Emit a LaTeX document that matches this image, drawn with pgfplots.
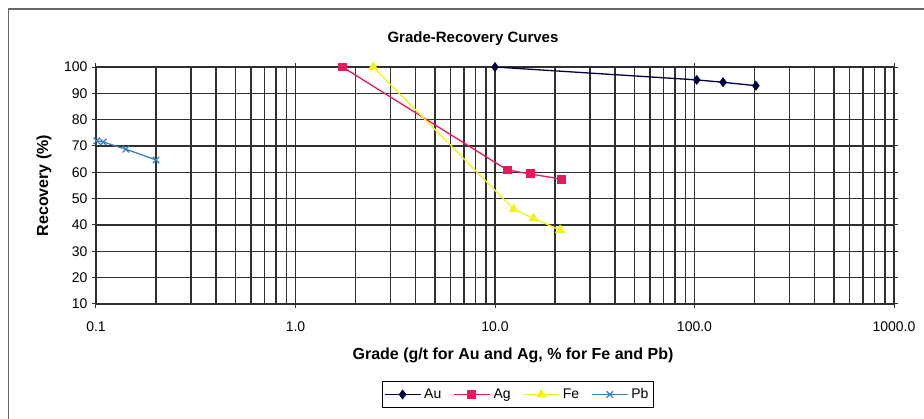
\documentclass[border=0pt]{standalone}
\usepackage{fontspec}
\setmainfont{Liberation Sans}
\usepackage{pgfplots}
\pgfplotsset{compat=1.18}
\definecolor{auc}{HTML}{000040}
\definecolor{agc}{HTML}{E8185E}
\definecolor{fec}{HTML}{F2F21A}
\definecolor{pbc}{HTML}{3A7FC0}
\definecolor{gridc}{HTML}{303030}
\begin{document}
\begin{tikzpicture}[x=1pt,y=1pt]
\useasboundingbox (0,0) rectangle (924,419);
\draw[black!60, line width=1.2pt] (8.3,-5) -- (8.3,410) -- (930,410);
\begin{axis}[
  at={(96pt,115pt)}, anchor=south west,
  scale only axis, width=798pt, height=237pt,
  xmode=log, log basis x=10,
  xmin=0.1, xmax=1000, ymin=10, ymax=100,
  ytick={10,20,...,100},
  xtick={0.1,1,10,100,1000},
  xticklabels={0.1,1.0,10.0,100.0,1000.0},
  minor xtick={0.2,0.3,0.4,0.5,0.6,0.7,0.8,0.9,2,3,4,5,6,7,8,9,20,30,40,50,60,70,80,90,200,300,400,500,600,700,800,900},
  /pgf/number format/assume math mode=true,
  grid=both,
  major grid style={gridc, line width=1.5pt},
  minor grid style={gridc, line width=1.5pt},
  axis line style={gridc, line width=1.5pt},
  tick style={gridc, line width=1pt},
  tick align=outside, major tick length=4pt, minor tick length=0pt,
  ticklabel style={font=\fontsize{14}{16}\selectfont},
  xticklabel style={yshift=-10pt},
  yticklabel style={xshift=-1pt},
  every axis title shift=0pt,
  title={\bfseries Grade-Recovery Curves},
  title style={at={(axis description cs:0.4724,1.118)}, anchor=center, font=\fontsize{15}{17}\selectfont},
  xlabel={\bfseries Grade (g/t for Au and Ag, \% for Fe and Pb)},
  xlabel style={at={(axis description cs:0.5226,-0.215)}, anchor=center, font=\fontsize{16}{18}\selectfont},
  ylabel={\bfseries Recovery (\%)},
  ylabel style={at={(axis description cs:-0.0652,0.5)}, anchor=center, font=\fontsize{16}{18}\selectfont},
  legend columns=-1,
  legend style={at={(axis description cs:0.5285,-0.382)}, anchor=center, draw=black, line width=0.8pt,
    font=\fontsize{14}{16}\selectfont, inner xsep=2pt, inner ysep=4pt,
    nodes={inner sep=3pt},
    /tikz/every even column/.append style={column sep=9pt}},
  legend image code/.code={\draw[#1, line width=1.2pt] (0pt,0pt) -- (36pt,0pt); \draw[#1, mark repeat=1, mark phase=1] plot coordinates {(18pt,0pt)};},
]
\addplot[auc, line width=1.3pt, mark=diamond*, mark size=4pt, mark options={solid, fill=auc}] coordinates {
  (10,100) (102.6,95.1) (139,94.2) (203,92.9)};
\addlegendentry{Au}
\addplot[agc, line width=1.3pt, mark=square*, mark size=3.8pt, mark options={solid, fill=agc}] coordinates {
  (1.72,100) (11.5,60.9) (15.0,59.4) (21.6,57.4)};
\addlegendentry{Ag}
\addplot[fec, line width=1.3pt, mark=triangle*, mark size=4.5pt, mark options={solid, fill=fec}] coordinates {
  (2.45,100) (12.4,46.0) (15.6,42.5) (21.2,38.1)};
\addlegendentry{Fe}
\addplot[pbc, line width=1.3pt, mark=x, mark size=4.5pt, mark options={solid, line width=1.3pt}] coordinates {
  (0.1008,72.0) (0.1088,71.5) (0.141,68.8) (0.2,64.7)};
\addlegendentry{Pb}
\end{axis}
\end{tikzpicture}
\end{document}
